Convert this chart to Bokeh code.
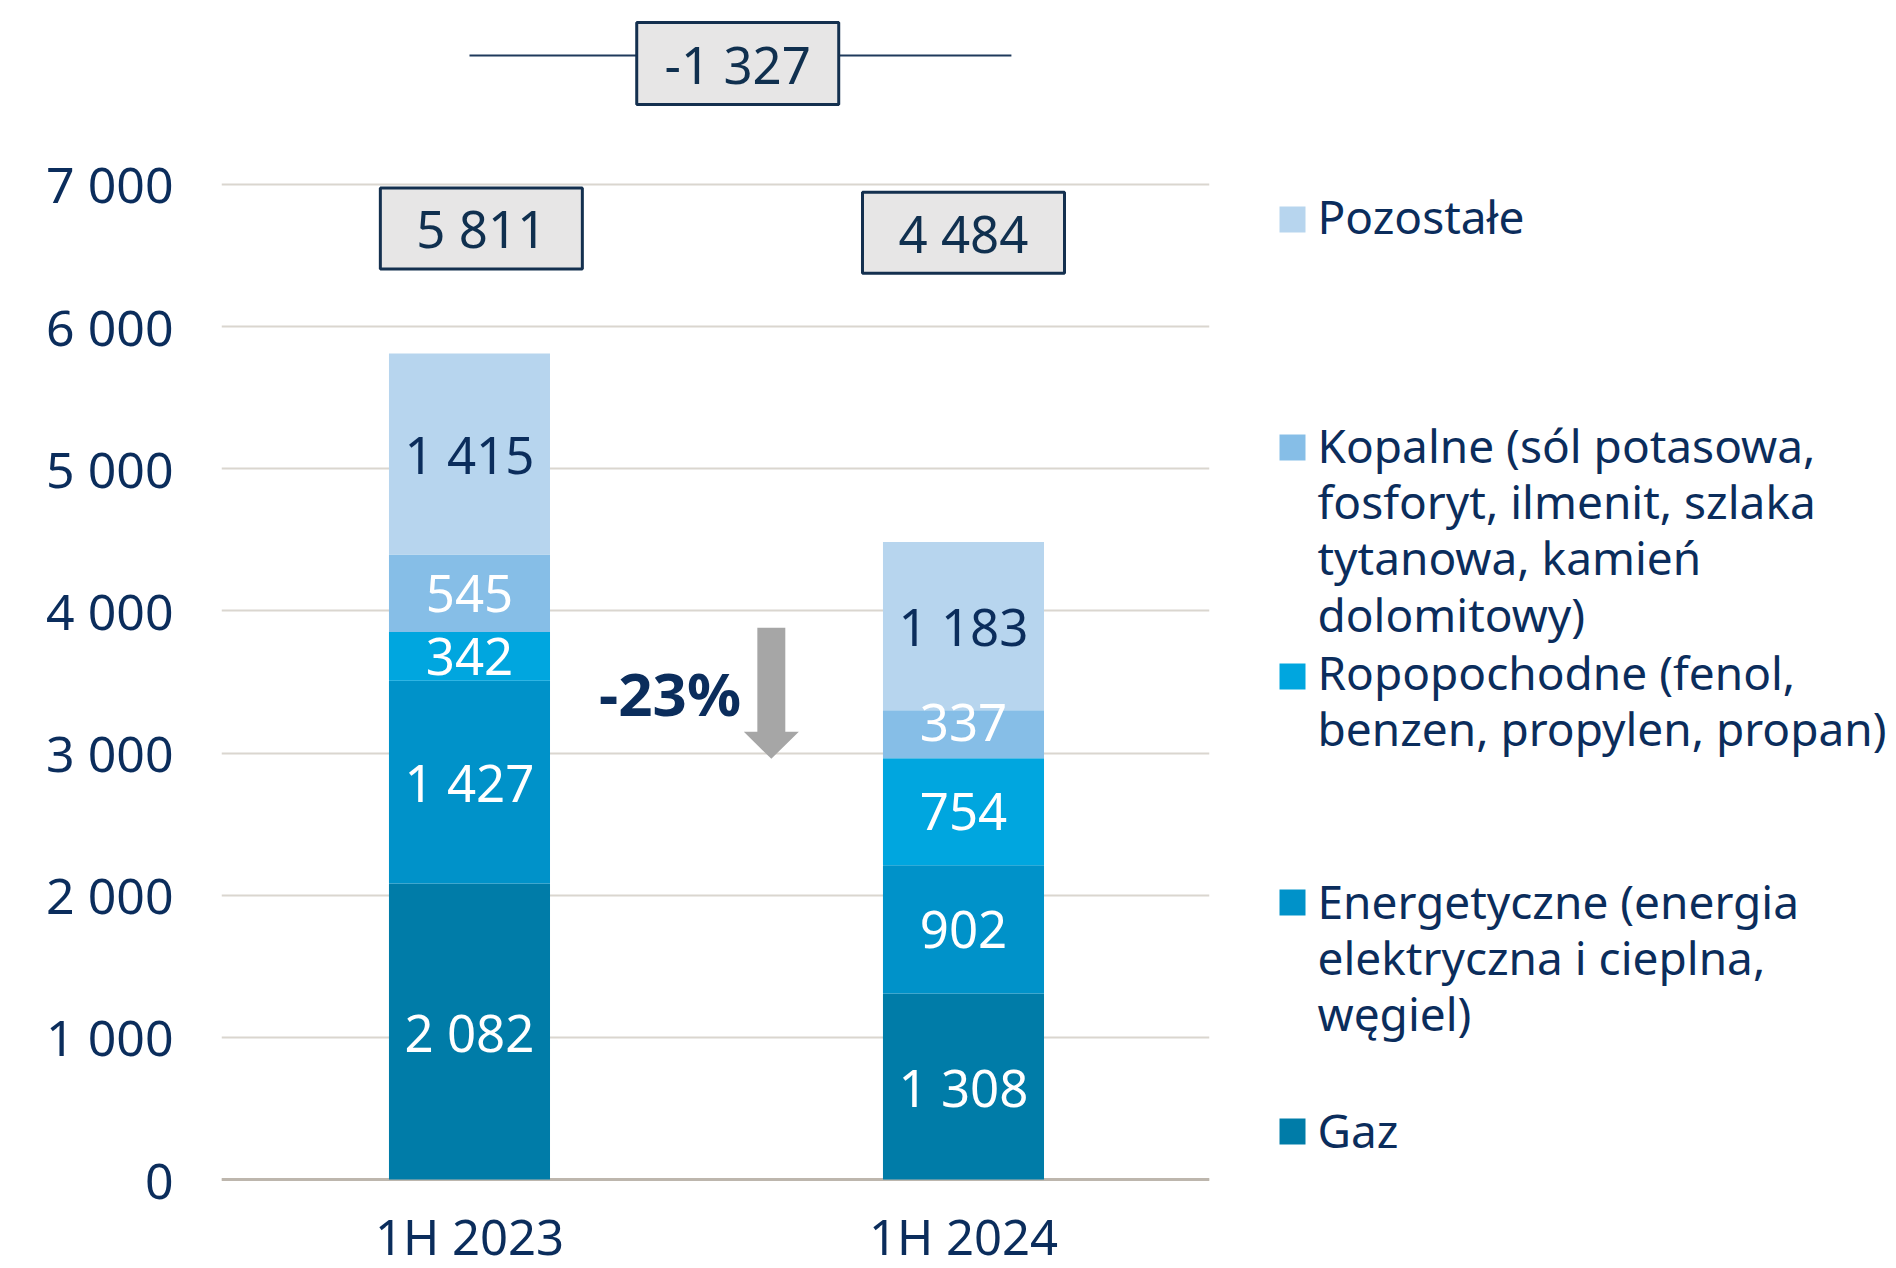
from bokeh.plotting import figure
from bokeh.models import ColumnDataSource, FixedTicker, Range1d, Span
from bokeh.layouts import row
from bokeh.embed import file_html
from bokeh.resources import INLINE
from bokeh.core.properties import value

# ---------------- data ----------------
periods = ["1H 2023", "1H 2024"]
series = ["Gaz", "Energetyczne", "Ropopochodne", "Kopalne", "Pozostałe"]
gaz = [2082, 1308]
energetyczne = [1427, 902]
ropopochodne = [342, 754]
kopalne = [545, 337]
pozostale = [1415, 1183]
totals = [5811, 4484]
change_abs = -1327
change_pct = "-23%"
y_ticks = [0, 1000, 2000, 3000, 4000, 5000, 6000, 7000]
legend_labels = [
    "Pozostałe",
    "Kopalne (sól potasowa,\nfosforyt, ilmenit, szlaka\ntytanowa, kamień\ndolomitowy)",
    "Ropopochodne (fenol,\nbenzen, propylen, propan)",
    "Energetyczne (energia\nelektryczna i cieplna,\nwęgiel)",
    "Gaz",
]

# ---------------- style ----------------
FONT = "Noto Sans"
NAVY = "#0b2d5c"
BOXTXT = "#10304f"
colors = ["#007CA8", "#0092C9", "#00A6DF", "#86BEE7", "#B7D5EE"]
label_colors = ["white", "white", "white", "white", NAVY]
legend_colors = colors[::-1]

H = 1268
TOP = 8
ZERO_PX = 1179          # page row of the value 0
PX_PER_UNIT = 0.14216   # pixels per value unit


def fmt(v):
    return f"{v:,}".replace(",", " ")


x_pos = list(range(len(periods)))
stack_data = [gaz, energetyczne, ropopochodne, kopalne, pozostale]

y_start = -(H - ZERO_PX) / PX_PER_UNIT
y_end = (ZERO_PX - TOP) / PX_PER_UNIT

p = figure(width=1268, height=H,
           x_range=Range1d(-0.502, 1.498), y_range=Range1d(y_start, y_end),
           output_backend="svg", toolbar_location=None,
           min_border_left=221, min_border_right=59,
           min_border_top=TOP, min_border_bottom=0)
p.outline_line_color = None
p.background_fill_color = "white"
p.border_fill_color = "white"

src = ColumnDataSource(dict(x=x_pos, **{s: d for s, d in zip(series, stack_data)}))
p.vbar_stack(series, x="x", width=0.326, fill_color=colors, line_color=None, source=src)

# grid
p.xgrid.visible = False
p.ygrid.ticker = FixedTicker(ticks=y_ticks)
p.ygrid.grid_line_color = "#dad6cf"
p.ygrid.grid_line_width = 2
p.add_layout(Span(location=0, dimension="width", line_color="#bdb6ad",
                  line_width=3, level="underlay"))

# axes
p.yaxis.ticker = FixedTicker(ticks=y_ticks)
p.yaxis.major_label_overrides = {t: fmt(t) for t in y_ticks}
p.xaxis.ticker = FixedTicker(ticks=x_pos)
p.xaxis.major_label_overrides = {i: periods[i] for i in x_pos}
for ax in (p.xaxis, p.yaxis):
    ax.axis_line_color = None
    ax.major_tick_line_color = None
    ax.minor_tick_line_color = None
    ax.major_label_text_font = FONT
    ax.major_label_text_color = NAVY
p.yaxis.major_label_text_font_size = "50px"
p.xaxis.major_label_text_font_size = "49px"
p.yaxis.major_label_standoff = 42
p.xaxis.fixed_location = 0
p.xaxis.major_label_standoff = 17

# segment labels
nudge = {(3, 1): -12}
lx, ly, lt, lc, ld = [], [], [], [], []
for i in x_pos:
    base = 0
    for k, vals in enumerate(stack_data):
        v = vals[i]
        lx.append(x_pos[i])
        ly.append(base + v / 2)
        lt.append(fmt(v))
        lc.append(label_colors[k])
        ld.append(nudge.get((k, i), 0))
        base += v
lsrc = ColumnDataSource(dict(x=lx, y=ly, t=lt, c=lc, d=ld))
p.text(x="x", y="y", text="t", text_color="c", y_offset="d", source=lsrc,
       text_font=value(FONT), text_font_size="51px",
       text_align="center", text_baseline="middle")

# total boxes
box_dx = [0.024, 0.0]
box_y = [6690, 6660]
tsrc = ColumnDataSource(dict(x=[xp + d for xp, d in zip(x_pos, box_dx)], y=box_y,
                             t=[fmt(t) for t in totals]))
p.rect(x="x", y="y", width=202, height=81, width_units="screen", height_units="screen",
       fill_color="#e7e6e6", line_color="#14304f", line_width=3, source=tsrc)
p.text(x="x", y="y", text="t", source=tsrc, text_color=BOXTXT,
       text_font=value(FONT), text_font_size="51px",
       text_align="center", text_baseline="middle")

# change box with connector line
p.segment(x0=[0.0], y0=[7906], x1=[1.097], y1=[7906], line_color="#1f3a5c", line_width=2)
csrc = ColumnDataSource(dict(x=[0.543], y=[7850], t=[fmt(change_abs)]))
p.rect(x="x", y="y", width=202, height=82, width_units="screen", height_units="screen",
       fill_color="#e7e6e6", line_color="#14304f", line_width=3, source=csrc)
p.text(x="x", y="y", text="t", source=csrc, text_color=BOXTXT,
       text_font=value(FONT), text_font_size="51px",
       text_align="center", text_baseline="middle")

# percentage label + arrow
p.text(x=[0.406], y=[3425], text=[change_pct], text_color=NAVY,
       text_font=value(FONT), text_font_size="60px", text_font_style="bold",
       text_align="center", text_baseline="middle")
c, w1, w2, top, base_, tip = 0.611, 0.0283, 0.0557, 3881, 3149, 2959
p.patch(x=[c - w1, c + w1, c + w1, c + w2, c, c - w2, c - w1],
        y=[top, top, base_, base_, tip, base_, base_],
        fill_color="#a6a6a6", line_color=None)

# ---------------- legend panel (coordinates = page pixels) ----------------
q = figure(width=620, height=H, x_range=Range1d(1268, 1888),
           y_range=Range1d(H, TOP),
           output_backend="svg", toolbar_location=None,
           min_border_left=0, min_border_right=0,
           min_border_top=TOP, min_border_bottom=0,
           x_axis_type=None, y_axis_type=None)
q.grid.visible = False
q.outline_line_color = None
q.background_fill_color = "white"
q.border_fill_color = "white"

square_y = [219, 447, 676, 902, 1131]
text_y0 = [215, 444, 671, 900, 1129]
line_step = 56.4
sq_x, sq_y, tx, ty, tt = [], [], [], [], []
for lab, ys, yt in zip(legend_labels, square_y, text_y0):
    sq_x.append(1292)
    sq_y.append(ys)
    for j, line in enumerate(lab.split("\n")):
        tx.append(1317)
        ty.append(yt + j * line_step)
        tt.append(line)
q.rect(x=sq_x, y=sq_y, width=26, height=26, fill_color=legend_colors, line_color=None)
q.text(x=tx, y=ty, text=tt, text_color=NAVY, text_font=value(FONT),
       text_font_size="46px", text_align="left", text_baseline="middle")

layout = row(p, q)
open("out.html", "w").write(file_html(layout, INLINE))
